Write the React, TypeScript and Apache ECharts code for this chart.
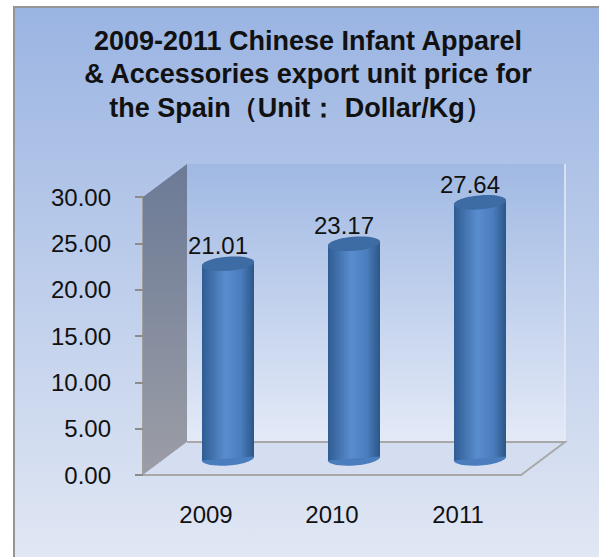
import React, { useEffect, useRef } from "react";
import * as echarts from "echarts";

const categories = ["2009", "2010", "2011"];
const values = [21.01, 23.17, 27.64];
const titleLines = [
  "2009-2011 Chinese Infant Apparel",
  "& Accessories export unit price for",
  "the Spain（Unit： Dollar/Kg）  ",
];
const DX = 44;
const DY = -33;
const RX = 26;
const RY = 7;
const TILT = 0.08;
const LIFT = 2;

const bodyFill = new echarts.graphic.LinearGradient(0, 0, 1, 0, [
  { offset: 0, color: "#2f5c92" },
  { offset: 0.45, color: "#5a8dcf" },
  { offset: 0.75, color: "#4a7dbd" },
  { offset: 1, color: "#2c5688" },
]);

export default function App() {
  const ref = useRef<HTMLDivElement>(null);
  useEffect(() => {
    const chart = echarts.init(ref.current!, undefined, { renderer: "svg" });
    chart.setOption({
      animation: false,
      backgroundColor: "#ffffff",
      graphic: [
        {
          type: "rect",
          z: -10,
          shape: { x: 14, y: 7, width: 600, height: 560 },
          style: {
            fill: new echarts.graphic.LinearGradient(0, 0, 0, 1, [
              { offset: 0, color: "#9ab4e2" },
              { offset: 1, color: "#e2e8f4" },
            ]),
            stroke: "#959595",
            lineWidth: 2,
          },
        },
      ],
      title: {
        text: titleLines.join("\n"),
        left: 303,
        top: 19,
        textAlign: "center",
        textStyle: {
          fontFamily: "Liberation Sans",
          fontWeight: "bold",
          fontSize: 27,
          lineHeight: 33.5,
          color: "#111111",
        },
      },
      grid: { left: 143, top: 197, width: 378, height: 278 },
      xAxis: {
        type: "category",
        data: categories,
        axisLine: { lineStyle: { color: "#a8a8a8", width: 2 } },
        axisTick: { length: 8, lineStyle: { color: "#8c8c8c", width: 2 } },
        axisLabel: { fontFamily: "Liberation Sans", fontSize: 24, color: "#111", margin: 27 },
      },
      yAxis: {
        type: "value",
        min: 0,
        max: 30,
        interval: 5,
        axisLine: { show: true, lineStyle: { color: "#a0a0a0", width: 2 } },
        axisTick: { show: true, length: 8, lineStyle: { color: "#8c8c8c", width: 2 } },
        splitLine: { show: false },
        axisLabel: {
          fontFamily: "Liberation Sans",
          fontSize: 24,
          color: "#111",
          margin: 32,
          padding: [6, 0, 0, 0],
          formatter: (v: number) => v.toFixed(2),
        },
      },
      series: [
        {
          type: "custom",
          coordinateSystem: "cartesian2d",
          z: 1,
          silent: true,
          data: [[categories[0], 0]],
          renderItem: (params: any) => {
            const c = params.coordSys;
            const x0 = c.x, x1 = c.x + c.width, yT = c.y, yB = c.y + c.height;
            return {
              type: "group",
              children: [
                {
                  type: "polygon",
                  shape: { points: [[x0 + DX, yT + DY], [x1 + DX, yT + DY], [x1 + DX, yB + DY], [x0 + DX, yB + DY]] },
                  style: {
                    fill: new echarts.graphic.LinearGradient(0, 0, 0, 1, [
                      { offset: 0, color: "#a0b9e3" },
                      { offset: 1, color: "#e4eaf7" },
                    ]),
                  },
                },
                {
                  type: "line",
                  shape: { x1: x1 + DX, y1: yT + DY, x2: x1 + DX, y2: yB + DY },
                  style: { stroke: "#e6ecf8", lineWidth: 1.5 },
                },
                {
                  type: "polygon",
                  shape: { points: [[x0, yT], [x0 + DX, yT + DY], [x0 + DX, yB + DY], [x0, yB]] },
                  style: {
                    fill: new echarts.graphic.LinearGradient(0, 0, 0, 1, [
                      { offset: 0, color: "#6b7a96" },
                      { offset: 1, color: "#9c9ea6" },
                    ]),
                  },
                },
                {
                  type: "polygon",
                  shape: { points: [[x0, yB], [x1, yB], [x1 + DX, yB + DY], [x0 + DX, yB + DY]] },
                  style: { fill: "#d5def0" },
                },
                {
                  type: "polyline",
                  shape: { points: [[x0 + DX, yB + DY], [x1 + DX, yB + DY], [x1, yB], [x0, yB]] },
                  style: { stroke: "#a8a8a8", lineWidth: 2, fill: "none" },
                },
              ],
            };
          },
        },
        {
          type: "custom",
          coordinateSystem: "cartesian2d",
          z: 2,
          silent: true,
          data: values.map((v, i) => [categories[i], v]),
          encode: { x: 0, y: 1 },
          renderItem: (_params: any, api: any) => {
            const v = api.value(1);
            const top = api.coord([api.value(0), v]);
            const base = api.coord([api.value(0), 0]);
            const cx = top[0] + DX / 2;
            const yTop = top[1] + DY / 2;
            const yBase = base[1] + DY / 2;
            return {
              type: "group",
              children: [
                {
                  type: "ellipse",
                  x: cx,
                  y: yBase,
                  rotation: TILT,
                  shape: { cx: 0, cy: 0, rx: RX + 0.2, ry: RY },
                  style: { fill: "#4a7dbd" },
                },
                {
                  type: "polygon",
                  shape: {
                    points: [
                      [cx - RX, yTop + LIFT],
                      [cx + RX, yTop - LIFT],
                      [cx + RX, yBase - LIFT],
                      [cx - RX, yBase + LIFT],
                    ],
                  },
                  style: { fill: bodyFill },
                },
                {
                  type: "ellipse",
                  x: cx,
                  y: yTop,
                  rotation: TILT,
                  shape: { cx: 0, cy: 0, rx: RX + 0.2, ry: RY },
                  style: { fill: "#3d6ba3" },
                },
                {
                  type: "text",
                  style: {
                    x: cx - 10,
                    y: yTop - 18,
                    text: v.toFixed(2),
                    fill: "#111",
                    font: "24px 'Liberation Sans'",
                    align: "center",
                    verticalAlign: "middle",
                  },
                },
              ],
            };
          },
        },
      ],
    });
    return () => chart.dispose();
  }, []);
  return <div ref={ref} style={{ width: 599, height: 557, position: "fixed", left: 0, top: 0 }} />;
}
